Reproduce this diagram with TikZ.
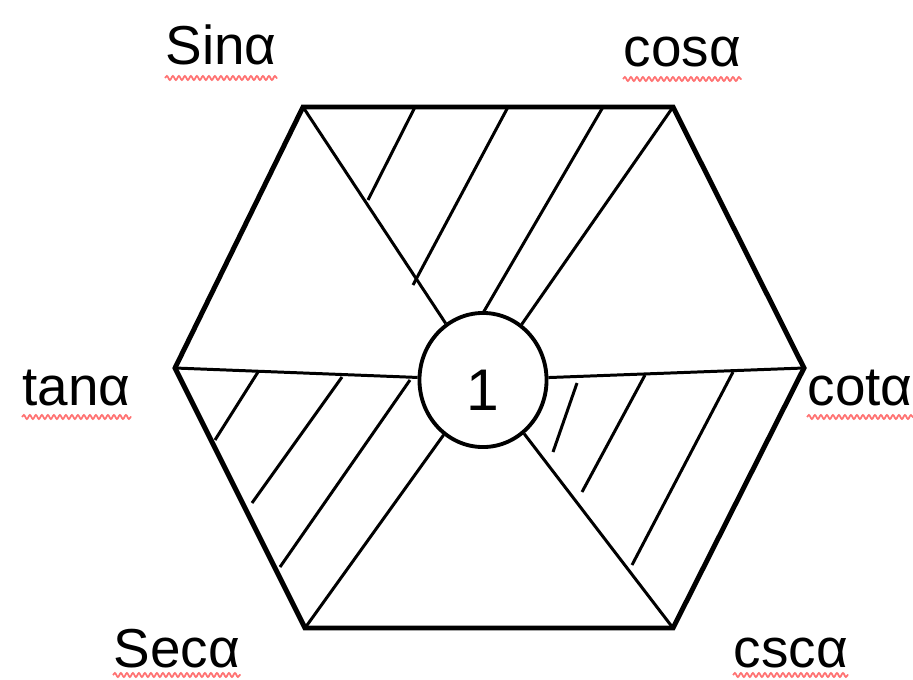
\documentclass[tikz,border=0pt]{standalone}
\usepackage{fontspec}
\setmainfont{Liberation Sans}
\usetikzlibrary{shapes.geometric,decorations.pathmorphing}
\tikzset{
  hexedge/.style  = {draw=black, line width=1.4pt, line join=miter},
  spoke/.style    = {draw=black, line width=0.85pt},
  hatch/.style    = {draw=black, line width=0.85pt},
  unit/.style     = {ellipse, draw=black, line width=1.1pt, fill=white, minimum width=1.27cm, minimum height=1.34cm, inner sep=0pt, font=\fontsize{16.7}{18}\selectfont},
  fn/.style       = {anchor=base west, inner sep=0pt, font=\fontsize{15.6}{18}\selectfont},
  squiggle/.style = {draw=red!55!white, line width=0.5pt, decorate, decoration={snake, amplitude=0.2mm, segment length=0.6mm}},
}

\begin{document}
\begin{tikzpicture}[x=0.01cm,y=-0.01cm]
  \useasboundingbox (0,0) rectangle (913,679);

  % hexagon corners
  \coordinate (tl) at (303,107);
  \coordinate (tr) at (673,107);
  \coordinate (r)  at (804,368);
  \coordinate (br) at (673,628);
  \coordinate (bl) at (305,628);
  \coordinate (l)  at (175,368);
  \draw[hexedge] (tl) -- (tr) -- (r) -- (br) -- (bl) -- (l) -- cycle;

  \node[unit] (one) at (483,380) {\raisebox{-0.3cm}[0pt][0pt]{1}};
  \foreach \c in {tl,tr,r,br,bl,l} {
    \draw[spoke] (\c) -- (one);
  }

  % hatching
  \foreach \a/\b in {{415,107}/{368,200}, {508,107}/{413,285}, {603,107}/{483,313},
                     {258,372}/{215,440}, {342,377}/{252,503}, {410,380}/{280,567},
                     {577,383}/{553,452}, {645,375}/{582,492}, {733,372}/{632,565}} {
    \draw[hatch] (\a) -- (\b);
  }

  % labels
  \node[fn] (sin) at (165,65)  {Sinα};
  \node[fn] (cos) at (623,67)  {cosα};
  \node[fn] (tan) at (22,405)  {tanα};
  \node[fn] (cot) at (807,405) {cotα};
  \node[fn] (sec) at (113,667) {Secα};
  \node[fn] (csc) at (733,667) {cscα};
  \foreach \n/\d in {sin/0.13, cos/0.12, tan/0.12, cot/0.12, sec/0.08, csc/0.08} {
    \draw[squiggle] ([yshift=-\d cm]\n.base west) -- ([yshift=-\d cm]\n.base east);
  }
\end{tikzpicture}
\end{document}
